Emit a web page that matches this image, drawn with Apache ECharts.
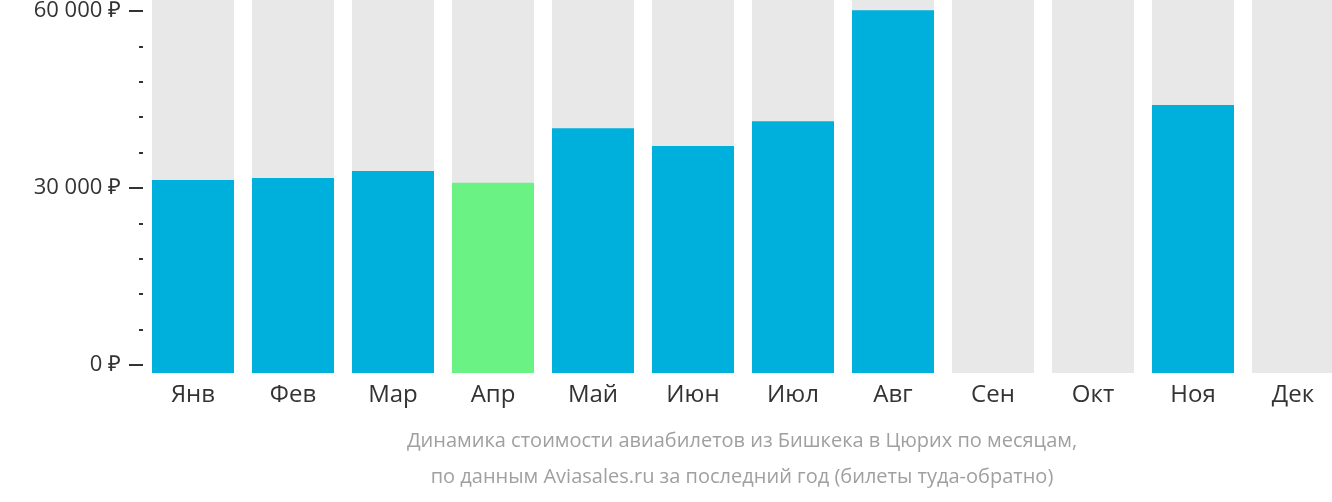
<!DOCTYPE html><html><head><meta charset="utf-8">
<script src="https://cdn.jsdelivr.net/npm/echarts@6/dist/echarts.min.js"></script>
<style>html,body{margin:0;background:#fff;overflow:hidden}#c{width:1345px;height:502px}</style></head><body><div id="c"></div>
<script>
const categories=['Янв','Фев','Мар','Апр','Май','Июн','Июл','Авг','Сен','Окт','Ноя','Дек'];
const prices=[31200,31500,32700,30700,39900,36900,41100,59800,null,null,43800,null];
const highlight=[false,false,false,true,false,false,false,false,false,false,false,false];
const tickLabels={0:'0 ₽',30000:'30 000 ₽',60000:'60 000 ₽'};
const titleLines=['Динамика стоимости авиабилетов из Бишкека в Цюрих по месяцам,','по данным Aviasales.ru за последний год (билеты туда-обратно)'];
const pxPer=356/60000, baseVal=-8/pxPer;
const colorOf=i=>highlight[i]?'#6af285':'#00b0dc';
const chart=echarts.init(document.getElementById('c'));
chart.setOption({
 animation:false,
 textStyle:{fontFamily:'Open Sans'},
 grid:[{left:143,top:0,width:1200,height:373},{left:143,top:9,width:1200,height:356}],
 xAxis:[{type:'category',data:categories,gridIndex:0,axisLine:{show:false},axisTick:{show:false},
   axisLabel:{fontSize:24,color:'#333',margin:10,fontFamily:'Open Sans'}},
  {type:'category',data:categories,gridIndex:1,show:false}],
 yAxis:[{type:'value',gridIndex:0,min:baseVal,max:373/pxPer+baseVal,show:false},
  {type:'value',gridIndex:1,min:0,max:60000,interval:30000,splitLine:{show:false},axisLine:{show:false},
   axisTick:{show:true,length:14,lineStyle:{color:'#333',width:2}},
   minorTick:{show:true,splitNumber:5,length:4,lineStyle:{color:'#333',width:2}},
   axisLabel:{fontSize:22,color:'#333',margin:22,fontFamily:'Open Sans',formatter:v=>tickLabels[v]||''}}],
 series:[
  {type:'bar',stack:'s',barWidth:82,showBackground:true,backgroundStyle:{color:'#e8e8e8'},
   data:prices.map((v,i)=>({value:v,itemStyle:{color:colorOf(i)}}))},
  {type:'bar',stack:'s',barWidth:82,
   data:prices.map((v,i)=>({value:v==null?null:baseVal,itemStyle:{color:colorOf(i)}}))}
 ],
 graphic:titleLines.map((t,i)=>({type:'text',x:742,y:431+i*36,style:{text:t,fill:'#a0a0a0',font:'20px "Open Sans"',textAlign:'center'}}))
});
</script></body></html>
